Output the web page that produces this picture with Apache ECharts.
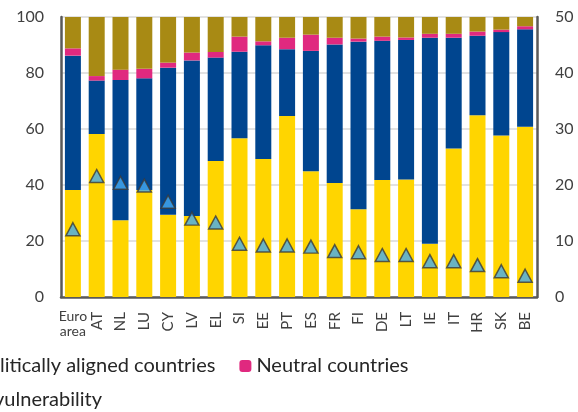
<!DOCTYPE html>
<html>
<head>
<meta charset="utf-8">
<script src="https://cdn.jsdelivr.net/npm/echarts@6/dist/echarts.min.js"></script>
<style>
  html, body { margin: 0; padding: 0; background: #fff; }
  #chart { width: 578px; height: 412px; }
</style>
</head>
<body>
<div id="chart"></div>
<script>
// Country codes along the horizontal axis
const categories = ['Euro area', 'AT', 'NL', 'LU', 'CY', 'LV', 'EL', 'SI', 'EE', 'PT',
                    'ES', 'FR', 'FI', 'DE', 'LT', 'IE', 'IT', 'HR', 'SK', 'BE'];

// Shares in percent (left axis), stacked from the bottom
const domestic = [38.2, 58.2, 27.4, 38.2, 29.4, 28.9, 48.6, 56.7, 49.3, 64.6,
                  44.9, 40.7, 31.3, 41.8, 42.0, 19.0, 53.0, 64.9, 57.7, 60.8];
const aligned  = [48.0, 19.1, 50.1, 39.9, 52.5, 55.6, 36.9, 30.9, 40.6, 23.9,
                  43.0, 49.5, 59.9, 49.7, 49.8, 73.6, 39.6, 28.4, 36.9, 34.8];
const neutral  = [2.6, 1.6, 3.7, 3.4, 1.8, 2.8, 2.0, 5.4, 1.4, 4.1,
                  5.8, 2.4, 1.1, 1.5, 0.9, 1.4, 1.4, 1.5, 0.9, 1.1];
const distant  = [11.2, 21.1, 18.8, 18.5, 16.3, 12.7, 12.5, 7.0, 8.7, 7.4,
                  6.3, 7.4, 7.7, 7.0, 7.3, 6.0, 6.0, 5.2, 4.5, 3.3];

// Vulnerability index (right axis)
const vulnerability = [12.1, 21.6, 20.4, 19.9, 17.0, 14.0, 13.3, 9.5, 9.2, 9.2,
                       9.0, 8.2, 8.0, 7.5, 7.5, 6.4, 6.4, 5.7, 4.6, 3.8];

const leftTicks = { min: 0, max: 100, interval: 20 };
const rightTicks = { min: 0, max: 50, interval: 10 };

const FONT = 'Lato';
const AXIS_COLOR = '#595959';
const TEXT_COLOR = '#404040';

const chart = echarts.init(document.getElementById('chart'), null, { renderer: 'canvas' });

function barSeries(name, data, color) {
  return {
    name: name,
    type: 'bar',
    stack: 'share',
    data: data,
    barWidth: 16,
    itemStyle: { color: color },
    emphasis: { disabled: true }
  };
}

const legendText = { fontFamily: FONT, fontSize: 20, color: '#262626' };

chart.setOption({
  animation: false,
  textStyle: { fontFamily: FONT },
  grid: { left: 61, right: 41, top: 17, bottom: 115 },
  legend: [
    {
      data: ['Geopolitically aligned countries', 'Neutral countries'],
      left: -76, top: 356, padding: 0,
      itemWidth: 12, itemHeight: 12, itemGap: 24,
      textStyle: legendText,
      selectedMode: false
    },
    {
      data: ['Geopolitical vulnerability'],
      right: 476, top: 390, padding: 0,
      itemWidth: 14, itemHeight: 13,
      textStyle: legendText,
      selectedMode: false
    }
  ],
  xAxis: [
    {
      type: 'category',
      data: categories,
      position: 'bottom',
      axisLine: { lineStyle: { color: AXIS_COLOR, width: 2.5 } },
      axisTick: { show: false },
      axisLabel: {
        interval: 0, rotate: 90, margin: 15,
        fontSize: 15, color: TEXT_COLOR,
        formatter: (v, i) => (i === 0 ? '' : v)
      }
    },
    {
      type: 'category',
      data: categories,
      position: 'bottom',
      axisLine: { show: false },
      axisTick: { show: false },
      axisLabel: {
        interval: 0, rotate: 0, margin: 12,
        fontSize: 14, lineHeight: 15, color: TEXT_COLOR,
        formatter: (v, i) => (i === 0 ? v.replace(' ', '\n') : '')
      }
    }
  ],
  yAxis: [
    {
      type: 'value',
      min: leftTicks.min, max: leftTicks.max, interval: leftTicks.interval,
      axisLine: { show: true, lineStyle: { color: AXIS_COLOR, width: 2.5 } },
      axisTick: { show: false },
      axisLabel: { margin: 17, fontSize: 16, color: TEXT_COLOR },
      splitLine: { lineStyle: { color: '#d9d9d9', width: 1.5 } }
    },
    {
      type: 'value',
      min: rightTicks.min, max: rightTicks.max, interval: rightTicks.interval,
      position: 'right',
      axisLine: { show: true, lineStyle: { color: AXIS_COLOR, width: 2.5 } },
      axisTick: { show: false },
      axisLabel: { margin: 18, fontSize: 16, color: TEXT_COLOR },
      splitLine: { show: false }
    }
  ],
  series: [
    barSeries('Domestic', domestic, '#FFD500'),
    barSeries('Geopolitically aligned countries', aligned, '#00458F'),
    barSeries('Neutral countries', neutral, '#E0297F'),
    barSeries('Geopolitically distant countries', distant, '#A88A14'),
    {
      name: 'Geopolitical vulnerability',
      type: 'scatter',
      yAxisIndex: 1,
      data: vulnerability,
      symbol: 'triangle',
      symbolSize: [14, 13],
      itemStyle: { color: '#45AAF2', borderColor: '#3A3A3A', borderWidth: 1.5 },
      emphasis: { disabled: true },
      z: 5
    }
  ]
});
</script>
</body>
</html>
